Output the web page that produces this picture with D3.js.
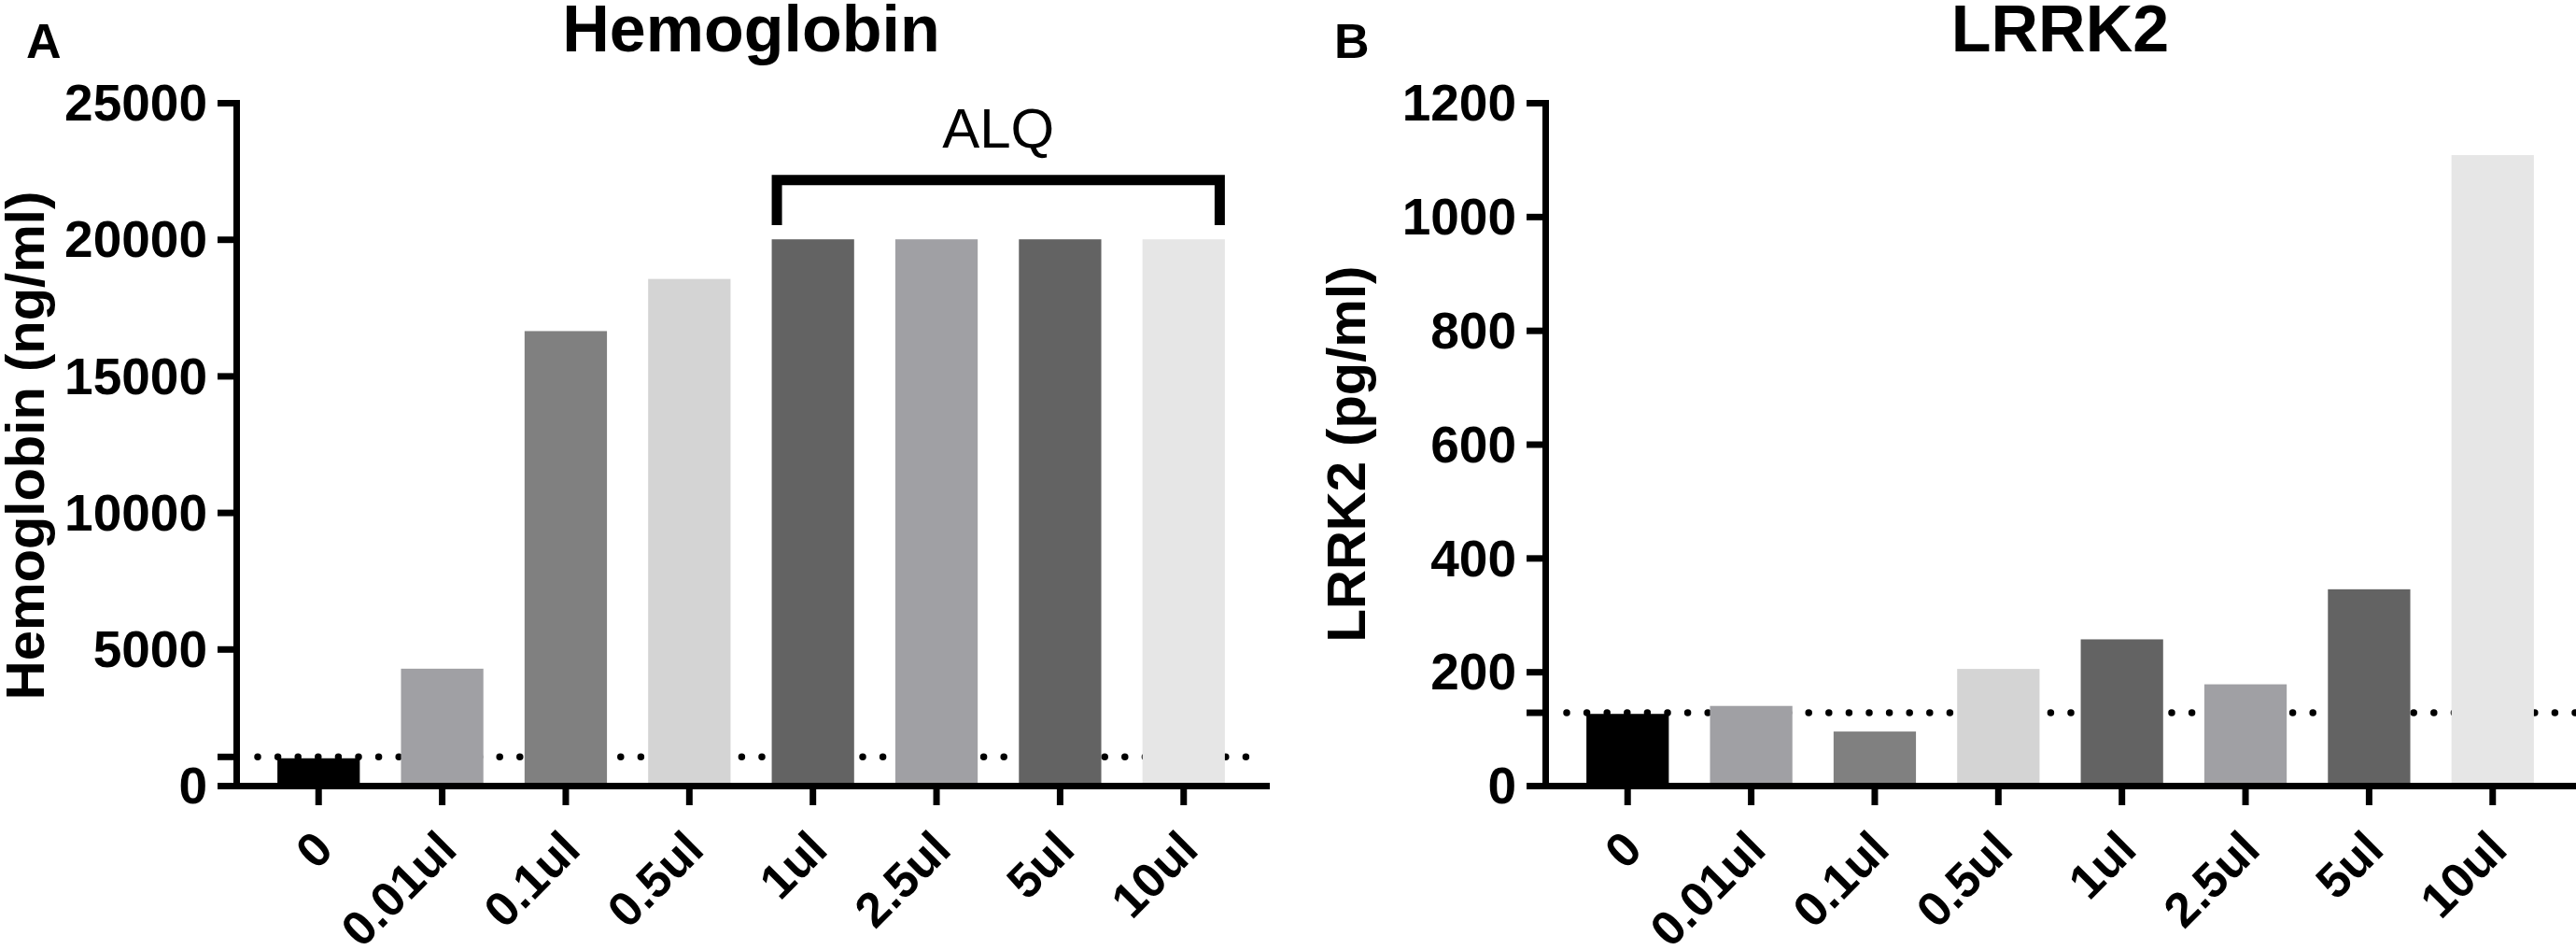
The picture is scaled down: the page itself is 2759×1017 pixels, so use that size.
<!DOCTYPE html>
<html>
<head>
<meta charset="utf-8">
<script src="https://cdn.jsdelivr.net/npm/d3@7"></script>
<style>
  body { margin: 0; background: #fff; }
  svg { display: block; font-family: "Liberation Sans", Arial, sans-serif; }
  .axis path, .axis line { stroke: #000; stroke-width: 7; }
  .axis text { font-size: 55px; font-weight: bold; fill: #000; }
  .axis.x-axis text { font-size: 52px; }
</style>
</head>
<body>
<div id="chart"></div>
<script>
//data
var categories = ['0', '0.01ul', '0.1ul', '0.5ul', '1ul', '2.5ul', '5ul', '10ul'];
var bar_colors = ['#000000', '#a0a0a4', '#808080', '#d4d4d4', '#636363', '#a0a0a4', '#636363', '#e6e6e6'];

var hemoglobin_values = [1000, 4280, 16640, 18550, 20000, 20000, 20000, 20000];
var hemoglobin_ticks = [0, 5000, 10000, 15000, 20000, 25000];
var hemoglobin_cutoff = 1050;

var lrrk2_values = [126, 140, 95, 205, 257, 178, 345, 1108];
var lrrk2_ticks = [0, 200, 400, 600, 800, 1000, 1200];
var lrrk2_cutoff = 128;

// bracket over the ALQ group (from 1ul to 10ul)
var alq_from = '1ul';
var alq_to = '10ul';

//size
var chart_width = 2759;
var chart_height = 1017;

var svg = d3.select('#chart')
            .append('svg')
            .attr('width', chart_width)
            .attr('height', chart_height);

function drawPanel(p) {
    var x = d3.scaleBand()
              .domain(categories)
              .range([p.left, p.right])
              .padding(1 / 3);

    var y = d3.scaleLinear()
              .domain([0, p.max])
              .range([841, 110]);

    var g = svg.append('g');

    // dotted cut-off line, under the bars
    g.append('line')
     .attr('x1', p.left + 23)
     .attr('x2', p.lineEnd)
     .attr('y1', y(p.cutoff))
     .attr('y2', y(p.cutoff))
     .attr('stroke', '#000')
     .attr('stroke-width', 7.5)
     .attr('stroke-linecap', 'round')
     .attr('stroke-dasharray', '0 21.6');

    g.selectAll('rect')
     .data(p.values)
     .enter()
     .append('rect')
     .attr('x', function(d, i) { return x(categories[i]); })
     .attr('width', x.bandwidth())
     .attr('y', function(d) { return y(d); })
     .attr('height', function(d) { return y(0) - y(d); })
     .attr('fill', function(d, i) { return bar_colors[i]; });

    // y axis
    var yAxis = g.append('g')
                 .attr('class', 'axis')
                 .attr('transform', 'translate(' + p.left + ',0)')
                 .call(d3.axisLeft(y)
                         .tickValues(p.ticks)
                         .tickFormat(d3.format('d'))
                         .tickSize(20)
                         .tickSizeOuter(0)
                         .tickPadding(11));
    yAxis.select('.domain').attr('stroke-linecap', 'square');
    yAxis.selectAll('text').attr('dy', '0.34em');

    // unlabeled tick at the cut-off
    yAxis.append('line')
         .attr('x1', -20)
         .attr('x2', 0)
         .attr('y1', y(p.cutoff))
         .attr('y2', y(p.cutoff));

    // x axis
    var xAxis = g.append('g')
                 .attr('class', 'axis x-axis')
                 .attr('transform', 'translate(0,' + y(0) + ')')
                 .call(d3.axisBottom(x)
                         .tickSize(21)
                         .tickSizeOuter(0));
    xAxis.select('.domain').attr('stroke-linecap', 'square');
    xAxis.selectAll('text')
         .attr('y', 0)
         .attr('dy', 0)
         .attr('text-anchor', 'end')
         .attr('transform', 'translate(18,71) rotate(-45)');

    // title
    g.append('text')
     .attr('x', (p.left + p.right) / 2)
     .attr('y', 55)
     .attr('text-anchor', 'middle')
     .attr('font-size', '70px')
     .attr('font-weight', 'bold')
     .text(p.title);

    // panel letter
    g.append('text')
     .attr('x', p.letterX)
     .attr('y', 62)
     .attr('font-size', '52px')
     .attr('font-weight', 'bold')
     .text(p.letter);

    // y axis title
    g.append('text')
     .attr('transform', 'translate(' + p.labelX + ',' + p.labelY + ') rotate(-90)')
     .attr('text-anchor', 'middle')
     .attr('font-size', '58px')
     .attr('font-weight', 'bold')
     .text(p.yLabel);

    return { x: x, y: y, g: g };
}

var left = drawPanel({
    left: 253, right: 1356, lineEnd: 1354, max: 25000,
    values: hemoglobin_values, ticks: hemoglobin_ticks, cutoff: hemoglobin_cutoff,
    title: 'Hemoglobin', letter: 'A', letterX: 28,
    yLabel: 'Hemoglobin (ng/ml)', labelX: 47, labelY: 477
});

drawPanel({
    left: 1655, right: 2758, lineEnd: 2759, max: 1200,
    values: lrrk2_values, ticks: lrrk2_ticks, cutoff: lrrk2_cutoff,
    title: 'LRRK2', letter: 'B', letterX: 1429,
    yLabel: 'LRRK2 (pg/ml)', labelX: 1462, labelY: 486
});

// ALQ bracket
var bx1 = left.x(alq_from) + 5.5;
var bx2 = left.x(alq_to) + left.x.bandwidth() - 5.5;
var by_top = left.y(22170);
var by_bottom = left.y(20520);

left.g.append('path')
      .attr('d', 'M' + bx1 + ',' + by_bottom + 'V' + by_top + 'H' + bx2 + 'V' + by_bottom)
      .attr('fill', 'none')
      .attr('stroke', '#000')
      .attr('stroke-width', 11)
      .attr('stroke-linejoin', 'miter');

left.g.append('text')
      .attr('x', (bx1 + bx2) / 2)
      .attr('y', left.y(23350))
      .attr('text-anchor', 'middle')
      .attr('font-size', '60px')
      .text('ALQ');
</script>
</body>
</html>
